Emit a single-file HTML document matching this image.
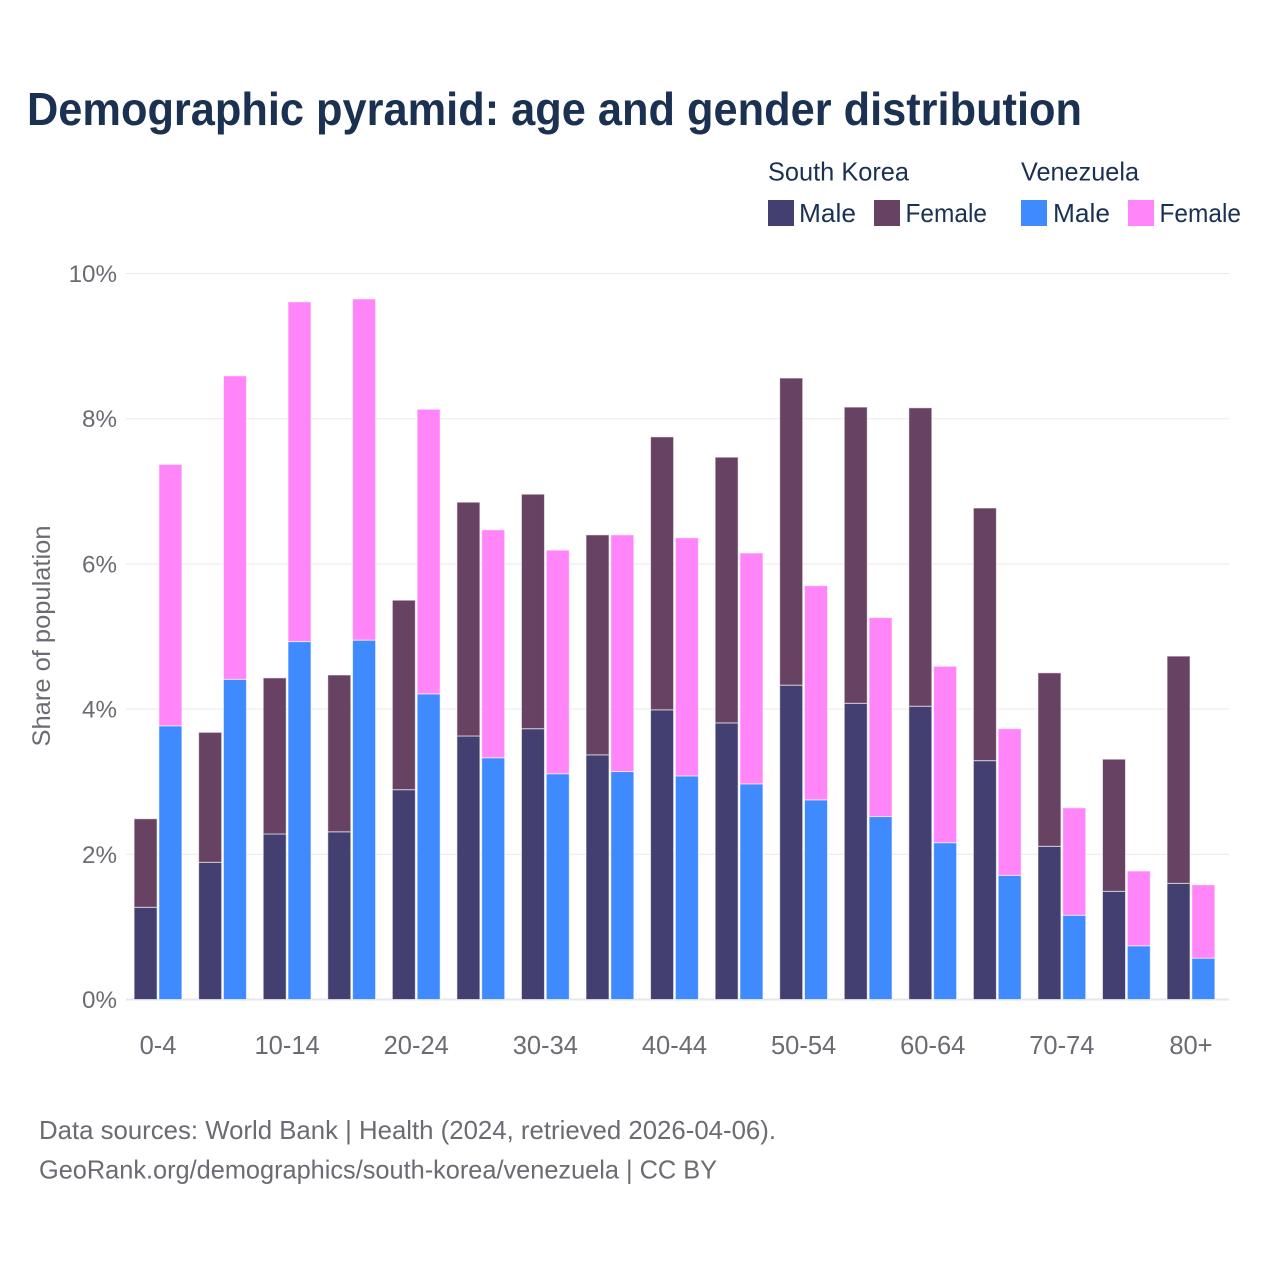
<!DOCTYPE html>
<html lang="en">
<head>
<meta charset="utf-8">
<title>Demographic pyramid</title>
<style>
html,body{margin:0;padding:0;background:#fff;width:1280px;height:1280px;overflow:hidden}
svg{display:block;font-family:"Liberation Sans",sans-serif}
</style>
</head>
<body>
<svg id="chart" width="1280" height="1280" viewBox="0 0 1280 1280" xmlns="http://www.w3.org/2000/svg">
  <rect width="1280" height="1280" fill="#fff"/>
  <text x="27" y="125" font-size="46" font-weight="700" fill="#1a3152" textLength="1055" lengthAdjust="spacingAndGlyphs">Demographic pyramid: age and gender distribution</text>

  <g id="grid"></g>
  <g id="bars"></g>
  <g id="yticks"></g>
  <g id="xticks"></g>

  <text transform="translate(50,636) rotate(-90)" text-anchor="middle" font-size="25" fill="#6b6b73" textLength="221" lengthAdjust="spacingAndGlyphs">Share of population</text>

  <g font-size="26" fill="#1a3152">
    <text x="768" y="180.5" textLength="141" lengthAdjust="spacingAndGlyphs">South Korea</text>
    <text x="1021" y="180.5" textLength="118" lengthAdjust="spacingAndGlyphs">Venezuela</text>
    <rect x="768" y="200" width="26" height="26" fill="#433f70"/>
    <text x="799" y="222" textLength="57" lengthAdjust="spacingAndGlyphs">Male</text>
    <rect x="874" y="200" width="26" height="26" fill="#674262"/>
    <text x="905.5" y="222" textLength="81.5" lengthAdjust="spacingAndGlyphs">Female</text>
    <rect x="1021" y="200" width="26" height="26" fill="#408aff"/>
    <text x="1053" y="222" textLength="57" lengthAdjust="spacingAndGlyphs">Male</text>
    <rect x="1128" y="200" width="26" height="26" fill="#ff85f9"/>
    <text x="1159.5" y="222" textLength="81.5" lengthAdjust="spacingAndGlyphs">Female</text>
  </g>

  <g font-size="26" fill="#6b6b73">
    <text x="39" y="1139" textLength="737" lengthAdjust="spacingAndGlyphs">Data sources: World Bank | Health (2024, retrieved 2026-04-06).</text>
    <text x="39" y="1178.5" textLength="678" lengthAdjust="spacingAndGlyphs">GeoRank.org/demographics/south-korea/venezuela | CC BY</text>
  </g>
</svg>
<script>
const ageGroups = ["0-4","5-9","10-14","15-19","20-24","25-29","30-34","35-39","40-44","45-49","50-54","55-59","60-64","65-69","70-74","75-79","80+"];
const koreaMale = [1.27,1.89,2.28,2.31,2.89,3.63,3.73,3.37,3.99,3.81,4.33,4.08,4.04,3.29,2.11,1.49,1.60];
const koreaFemale = [1.22,1.79,2.15,2.16,2.61,3.22,3.23,3.03,3.76,3.66,4.23,4.08,4.11,3.48,2.39,1.82,3.13];
const venezuelaMale = [3.77,4.41,4.93,4.95,4.21,3.33,3.11,3.14,3.08,2.97,2.75,2.52,2.16,1.71,1.16,0.74,0.57];
const venezuelaFemale = [3.60,4.18,4.68,4.70,3.92,3.14,3.08,3.26,3.28,3.18,2.95,2.74,2.43,2.02,1.48,1.03,1.01];
const yTickValues = [0,2,4,6,8,10];
const xTickLabels = ["0-4","10-14","20-24","30-34","40-44","50-54","60-64","70-74","80+"];

const NS = 'http://www.w3.org/2000/svg';
const yScale = v => 999.5 - v * 72.6;
const xCenter = i => 158 + i * 64.56;
const barWidth = 23;

function makeEl(tag, attrs, parent) {
  const el = document.createElementNS(NS, tag);
  for (const k in attrs) el.setAttribute(k, attrs[k]);
  parent.appendChild(el);
  return el;
}

const gridG = document.getElementById('grid');
const yG = document.getElementById('yticks');
const xG = document.getElementById('xticks');
const barsG = document.getElementById('bars');

yTickValues.forEach(v => {
  const line = makeEl('line', {x1:126, x2:1229, y1:yScale(v), y2:yScale(v), stroke: v === 0 ? '#e6e6ec' : '#e9e9ee', 'stroke-width': v === 0 ? 2 : 1}, gridG);
  
  
  const t = makeEl('text', {x:117, y:yScale(v) + 8.5, 'text-anchor':'end', 'font-size':24.2, fill:'#6b6b73'}, yG);
  
  
  t.textContent = v + '%';
});

xTickLabels.forEach(label => {
  const i = ageGroups.indexOf(label);
  const t = makeEl('text', {x:xCenter(i), y:1054, 'text-anchor':'middle', 'font-size':25.5, fill:'#6b6b73'}, xG);
  
  
  t.textContent = label;
});

function stackedBar(x, male, female, maleColor, femaleColor, name) {
  const maleTop = yScale(male);
  const totalTop = yScale(male + female);
  const m = makeEl('rect', {x:x, y:maleTop, width:barWidth, height:yScale(0) - maleTop, fill:maleColor, stroke:'#fff', 'stroke-opacity':0.6, 'stroke-width':1}, barsG);
  
  
  const f = makeEl('rect', {x:x, y:totalTop, width:barWidth, height:maleTop - totalTop, fill:femaleColor, stroke:'#fff', 'stroke-opacity':0.6, 'stroke-width':1}, barsG);
  
  
}

ageGroups.forEach((g, i) => {
  const c = xCenter(i);
  stackedBar(c - 23.9, koreaMale[i], koreaFemale[i], '#433f70', '#674262', 'south-korea');
  stackedBar(c + 0.9, venezuelaMale[i], venezuelaFemale[i], '#408aff', '#ff85f9', 'venezuela');
});
</script>
</body>
</html>
